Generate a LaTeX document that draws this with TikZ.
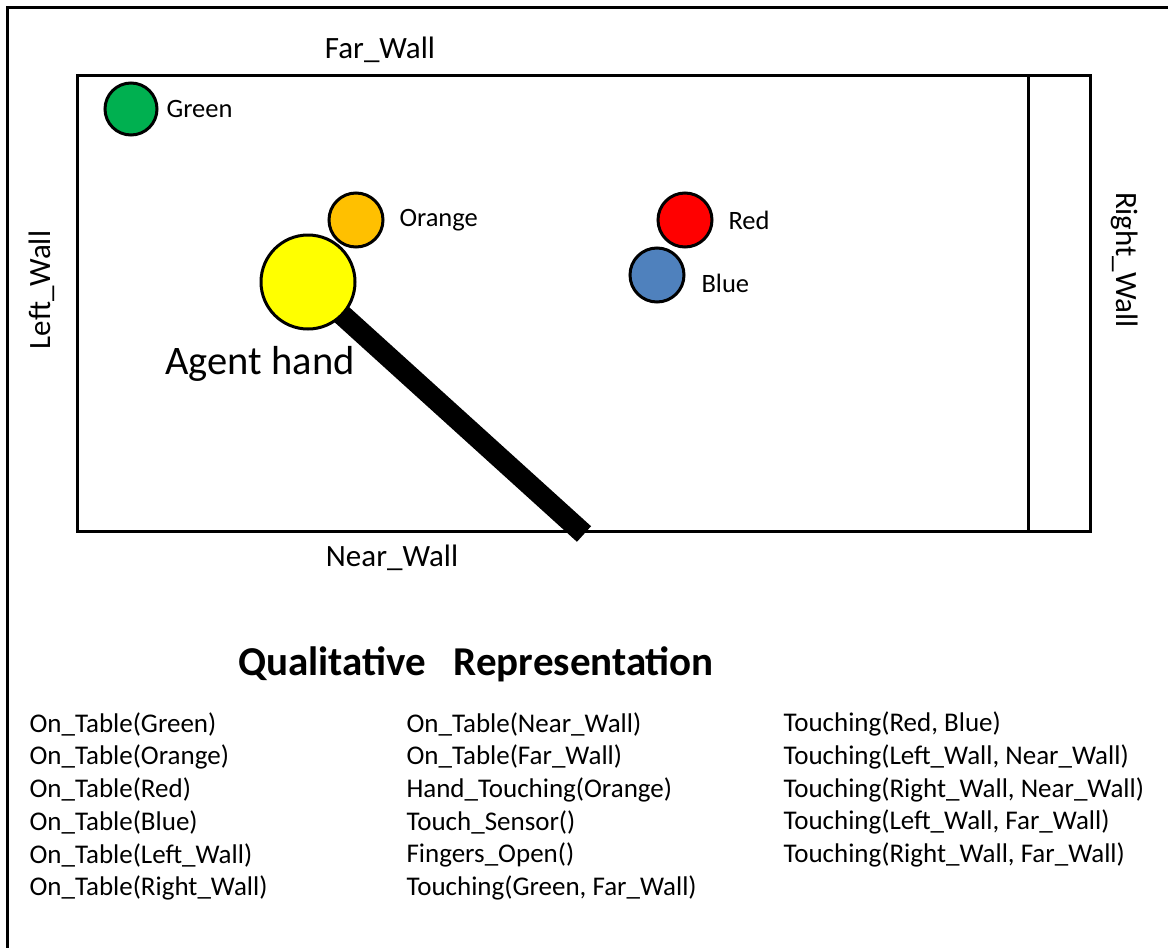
\documentclass[tikz,border=0pt]{standalone}
\usepackage{fontspec}
\setmainfont{Carlito}
\begin{document}
\begin{tikzpicture}[x=1pt,y=-1pt,
  ball/.style={circle,draw=black,line width=3pt,inner sep=0pt,minimum size=#1},
  lbl/.style={anchor=west,font=\fontsize{26.5}{30}\selectfont},
  wall/.style={font=\fontsize{31}{35}\selectfont},
  fact/.style={anchor=west,font=\fontsize{27}{31}\selectfont}]
\useasboundingbox (0,0) rectangle (1168,948);
% page frame (top and left edges)
\draw[line width=3pt] (7,948) -- (7,7) -- (1168,7);
% robot arm behind the hand
\coordinate (armend) at (584,534);
\draw[line width=21pt] (308,284) -- (armend);
% table outline and right wall strip
\draw[line width=3pt] (77,75) rectangle (1090,531);
\draw[line width=3pt] (1028,75) -- (1028,531);
% wall labels
\node[wall] (far) at (380,50) {Far\_Wall};
\node[wall] (near) at (392,558) {Near\_Wall};
\node[wall,rotate=90] (left) at (42,290) {Left\_Wall};
\node[wall,rotate=-90] (right) at (1125,260) {Right\_Wall};
% objects on the table
\node[ball=52pt,fill={rgb,255:red,0;green,176;blue,80}] (green) at (131,109) {};
\node[lbl] (greenl) at (163,109) {Green};
\node[ball=54pt,fill={rgb,255:red,255;green,192;blue,0}] (orange) at (356,220) {};
\node[lbl] (orangel) at (396,220) {Orange};
\node[ball=54pt,fill={rgb,255:red,255;green,0;blue,0}] (red) at (685,220) {};
\node[lbl] (redl) at (725,220) {Red};
\node[ball=54pt,fill={rgb,255:red,79;green,129;blue,189}] (blue) at (657,275) {};
\node[lbl] (bluel) at (698,283) {Blue};
\node[ball=94pt,fill={rgb,255:red,255;green,255;blue,0}] (hand) at (308,282) {};
\node[font=\fontsize{40.5}{44}\selectfont] (handl) at (260,364) {Agent hand};
% qualitative facts
\node[font=\bfseries\fontsize{41}{45}\selectfont] (title) at (476,664) {Qualitative\ \ \ Representation};
\foreach \t [count=\i] in {On\_Table(Green),On\_Table(Orange),On\_Table(Red),On\_Table(Blue),On\_Table(Left\_Wall),On\_Table(Right\_Wall)}
  \node[fact] (a\i) at (26,{724+32.8*(\i-1)}) {\t};
\foreach \t [count=\i] in {On\_Table(Near\_Wall),On\_Table(Far\_Wall),Hand\_Touching(Orange),Touch\_Sensor(),Fingers\_Open(),{Touching(Green, Far\_Wall)}}
  \node[fact] (b\i) at (403,{724+32.8*(\i-1)}) {\t};
\foreach \t [count=\i] in {{Touching(Red, Blue)},{Touching(Left\_Wall, Near\_Wall)},{Touching(Right\_Wall, Near\_Wall)},{Touching(Left\_Wall, Far\_Wall)},{Touching(Right\_Wall, Far\_Wall)}}
  \node[fact] (c\i) at (780,{724+32.8*(\i-1)}) {\t};
\end{tikzpicture}
\end{document}
